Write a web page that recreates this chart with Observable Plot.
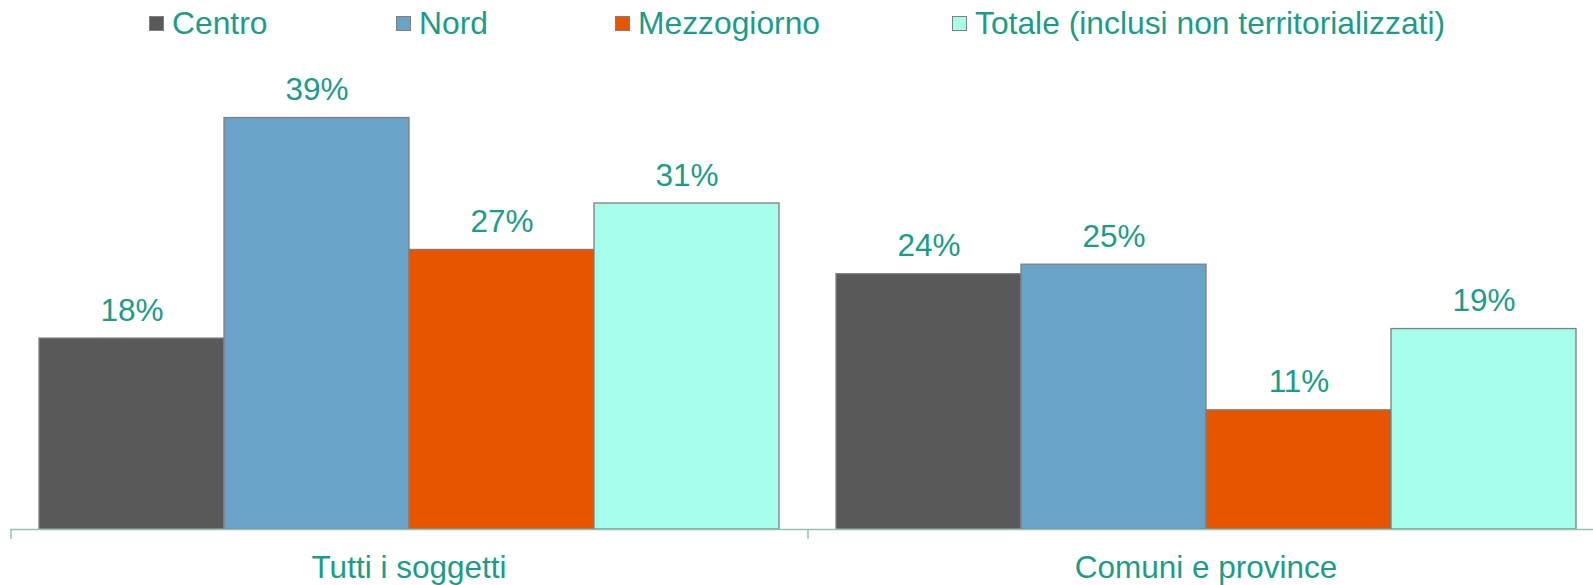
<!DOCTYPE html>
<html>
<head>
<meta charset="utf-8">
<script src="https://cdn.jsdelivr.net/npm/d3@7"></script>
<script src="https://cdn.jsdelivr.net/npm/@observablehq/plot@0.6"></script>
<style>
  html, body { margin: 0; padding: 0; background: #fff; overflow: hidden; width: 1593px; height: 585px; }
  #legend { position: relative; height: 47px; width: 1593px; font-family: "Liberation Sans", Arial, sans-serif; font-size: 31.8px; color: #1c9c87; }
  .item { position: absolute; top: 0; height: 47px; display: flex; align-items: center; white-space: nowrap; }
  .sw { width: 13px; height: 13px; border: 1px solid #7f7f7f; margin-right: 8px; }
  #chart svg { display: block; }
</style>
</head>
<body>
<div id="legend"></div>
<div id="chart"></div>
<script>
// Data
const groups = ["Tutti i soggetti", "Comuni e province"];
const series = ["Centro", "Nord", "Mezzogiorno", "Totale (inclusi non territorializzati)"];
const tuttiValues = [18.1, 39.0, 26.5, 30.9];
const comuniValues = [24.2, 25.1, 11.3, 19.0];
const colors = ["#595959", "#6aa3c8", "#e85500", "#a6fde9"];

const teal = "#1c9c87";
const axisColor = "#8fc3b6";
const font = "\"Liberation Sans\", Arial, sans-serif";

const valuesByGroup = [tuttiValues, comuniValues];
const data = [];
groups.forEach((g, gi) => series.forEach((s, si) => data.push({group: g, series: s, value: valuesByGroup[gi][si]})));

// Legend (HTML, above the SVG)
const legendLefts = [149, 396, 615, 952];
const legend = document.getElementById("legend");
series.forEach((s, i) => {
  const it = document.createElement("div");
  it.className = "item";
  it.style.left = legendLefts[i] + "px";
  const sw = document.createElement("div");
  sw.className = "sw";
  sw.style.background = colors[i];
  const tx = document.createElement("span");
  tx.textContent = s;
  it.appendChild(sw);
  it.appendChild(tx);
  legend.appendChild(it);
});

const width = 1604, marginLeft = 10, marginRight = 0;
const outer = 0.154;
const groupW = (width - marginLeft - marginRight) / groups.length;
const step = groupW / (series.length + 2 * outer);
const tickDx = -(step / 2 + outer * step);

const chart = Plot.plot({
  width, height: 538,
  marginLeft, marginRight, marginTop: 60, marginBottom: 56,
  style: {maxWidth: "none", fontFamily: font, fontSize: "31.5px", color: teal, background: "#fff"},
  fx: {domain: groups, padding: 0, label: null},
  x: {domain: series, paddingInner: 0, paddingOuter: outer, axis: null},
  y: {domain: [0, 40], axis: null},
  color: {domain: series, range: colors},
  marks: [
    Plot.barY(data, {fx: "group", x: "series", y: "value", fill: "series", stroke: "#7f7f7f", strokeWidth: 1.3}),
    Plot.text(data, {fx: "group", x: "series", y: "value", text: d => Math.round(d.value) + "%", dy: -28, lineAnchor: "middle", fill: teal, fontSize: 31.5, fontFamily: font}),
    Plot.ruleY([0], {stroke: axisColor, strokeWidth: 1.5}),
    Plot.ruleX(groups, {fx: d => d, x: () => series[0], dx: tickDx, y1: 0, y2: -0.95, stroke: axisColor, strokeWidth: 1.5}),
    Plot.axisFx({anchor: "bottom", tickSize: 0, tickPadding: 26, fontSize: 31.5, fontFamily: font, fill: teal, label: null})
  ]
});
document.getElementById("chart").appendChild(chart);
</script>
</body>
</html>
